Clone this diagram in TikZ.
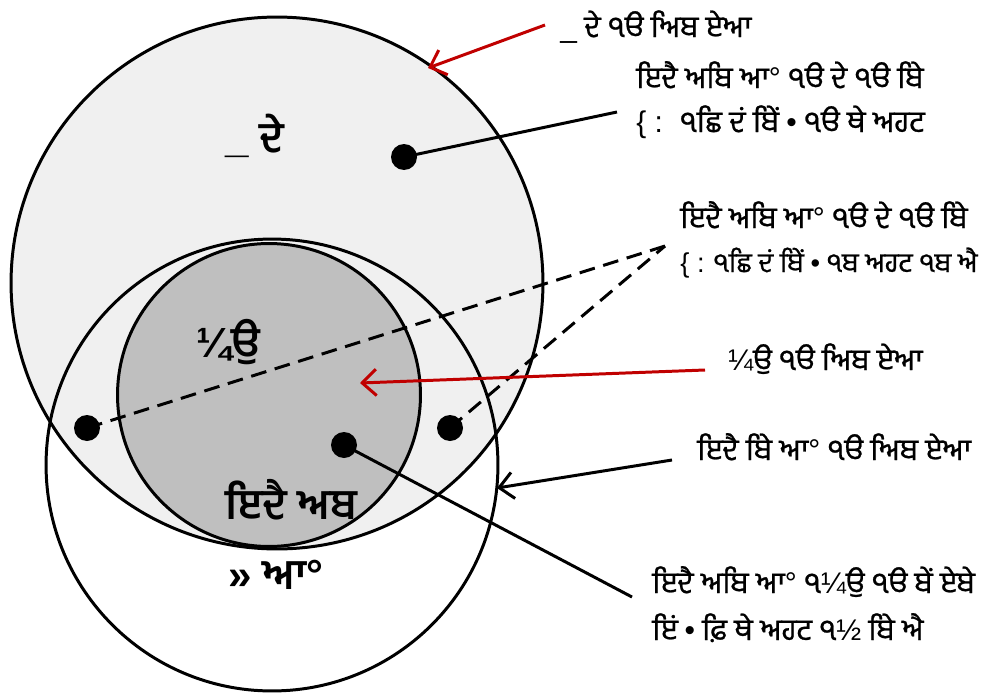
\documentclass[tikz,border=0pt]{standalone}
\usepackage{fontspec}
\newfontfamily\pa[Script=Gurmukhi,FakeBold=0.8]{Hind Jalandhar}
\newfontfamily\pab[Script=Gurmukhi]{Hind Jalandhar}
\newfontfamily\ls{Liberation Sans}
\usetikzlibrary{arrows.meta}
\definecolor{myred}{HTML}{C00000}
\definecolor{lightg}{HTML}{F0F0F0}
\definecolor{midg}{HTML}{BFBFBF}
\tikzset{
  ring/.style={circle, draw=black, line width=1.7pt, inner sep=0pt},
  blob/.style={circle, fill=black, minimum size=0.52cm, inner sep=0pt},
  lbl/.style={font=\pa\fontsize{17}{20}\selectfont, anchor=base west, inner sep=0pt},
  big/.style={font=\pab\bfseries\fontsize{24}{28}\selectfont, anchor=base west, inner sep=0pt},
  lead/.style={line width=1.7pt},
  redarr/.style={lead, draw=myred, -{Straight Barb[length=8pt,width=15pt]}},
  blkarr/.style={lead, -{Straight Barb[length=8pt,width=15pt]}},
}
\begin{document}
\begin{tikzpicture}[x=0.02cm,y=-0.02cm]
\useasboundingbox (0,0) rectangle (1000,693);
% circles
\node[ring, fill=lightg, minimum size=10.64cm] (outer) at (277,283) {};
\node[ring, minimum size=9.04cm] (lower) at (272,465) {};
\node[ring, fill=midg, minimum size=6.06cm] (inner) at (269,395) {};
% circle labels
\node[big] (c1) at (225,152) {{\ls\_} ਦੇ};
\node[big] (c2) at (196,357) {{\ls ¼}ਉ};
\node[big] (c3) at (225,519) {ਇਦੈ ਅਬ};
\node[big] (c4) at (228,589) {{\ls »} ਆ{\ls °}};
% dots
\node[blob] (d1) at (404,157) {};
\node[blob] (d2) at (87,428) {};
\node[blob] (d3) at (450,428) {};
\node[blob] (d4) at (344,445) {};
% anchor coordinates
\coordinate (t1) at (545,25);
\coordinate (e1) at (428,68);
\coordinate (t2) at (617,112);
\coordinate (t3) at (665,246);
\coordinate (t4) at (705,370);
\coordinate (e4) at (360,383);
\coordinate (t5) at (672,460);
\coordinate (e5) at (497,488);
\coordinate (t6) at (632,597);
% connectors
\draw[redarr] (t1) -- (e1);
\draw[lead] (d1.center) -- (t2);
\draw[lead, dash pattern=on 9pt off 5pt] (d2.center) -- (t3);
\draw[lead, dash pattern=on 9pt off 5pt] (d3.center) -- (t3);
\draw[redarr] (t4) -- (e4);
\draw[blkarr] (t5) -- (e5);
\draw[lead] (d4.center) -- (t6);
% labels
\node[lbl] (l1) at (560,37) {{\ls\_} ਦੇ ੧ੳ ਅਿਬ ਏਆ};
\node[lbl] (l2a) at (636,88) {ਇਦੈ ਅਬਿ ਆ{\ls °} ੧ੳ ਦੇ ੧ੳ ਬੇਿ};
\node[lbl] (l2b) at (636,132) {{\ls \{ :} \ ੧ਛਿ ਦਂ ਬੇਿਂ {\ls •} ੧ੳ ਥੇ ਅਹਟ};
\node[lbl] (l3a) at (680,228) {ਇਦੈ ਅਬਿ ਆ{\ls °} ੧ੳ ਦੇ ੧ੳ ਬੇਿ};
\node[lbl, font=\pa\fontsize{15.5}{18}\selectfont] (l3b) at (680,272) {{\ls \{ :} ੧ਛਿ ਦਂ ਬੇਿਂ {\ls •} ੧ਬ ਅਹਟ ੧ਬ ਐ};
\node[lbl] (l4) at (728,370) {{\ls ¼}ਉ ੧ੳ ਅਿਬ ਏਆ};
\node[lbl] (l5) at (697,460) {ਇਦੈ ਬੇਿ ਆ{\ls °} ੧ੳ ਅਿਬ ਏਆ};
\node[lbl] (l6a) at (652,593) {ਇਦੈ ਅਬਿ ਆ{\ls °} ੧{\ls ¼}ਉ ੧ੳ ਬੇਂ ਏਬੇ};
\node[lbl] (l6b) at (652,640) {ਇਂ {\ls •} ਫ਼ਿ ਥੇ ਅਹਟ ੧{\ls ½} ਬੇਿ ਐ};
\end{tikzpicture}
\end{document}
